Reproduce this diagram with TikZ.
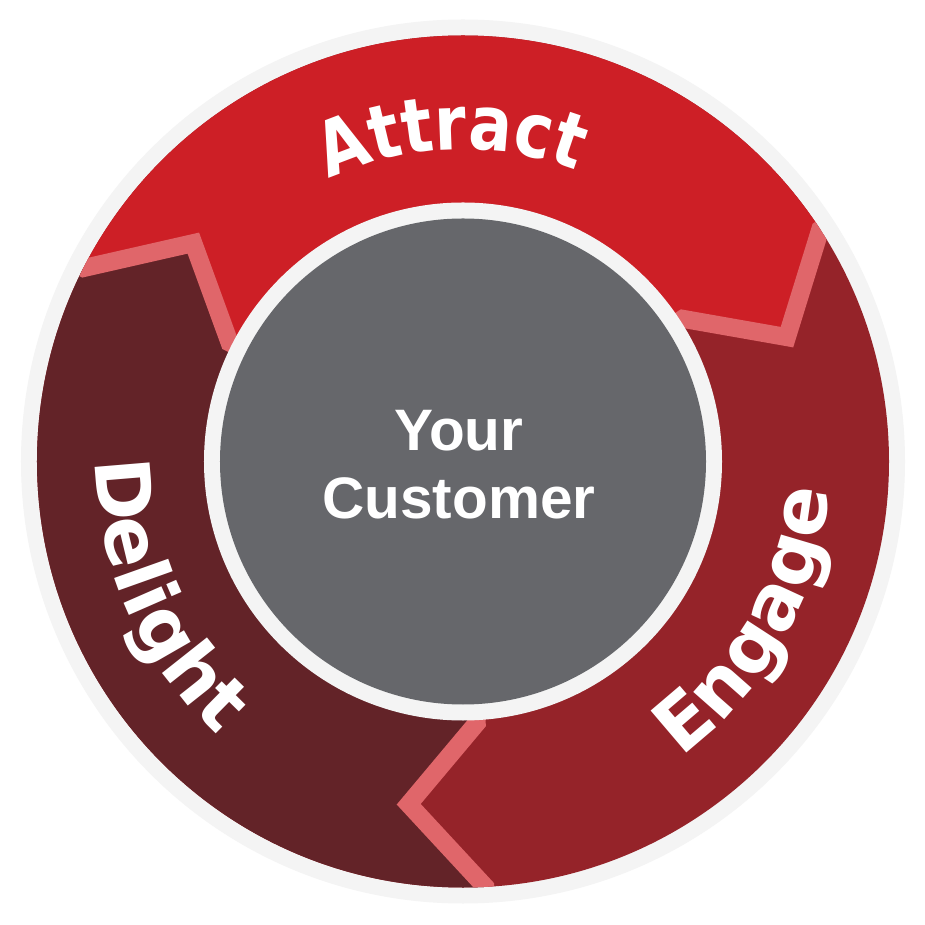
\documentclass[tikz,border=0pt]{standalone}
\usepackage{fontspec}
\usepackage{tikz}
\usetikzlibrary{positioning,decorations.text}
\definecolor{ringwhite}{HTML}{F4F4F4}
\definecolor{attractred}{HTML}{CD1F26}
\definecolor{engagered}{HTML}{952329}
\definecolor{delightred}{HTML}{632328}
\definecolor{chevronpink}{HTML}{E0666A}
\definecolor{hubgray}{HTML}{66676B}
\newfontfamily\stagefont{DejaVu Sans}[UprightFont={* Bold}]
\newfontfamily\attractfont{DejaVu Sans}[UprightFont={* Bold},FakeStretch=0.85]
\newfontfamily\hubfont{Liberation Sans}[UprightFont={* Bold}]
\newcommand\stagestyle{\stagefont\fontsize{43}{48}\selectfont}
\newcommand\attractstyle{\attractfont\fontsize{43}{48}\selectfont}

\begin{document}
\begin{tikzpicture}[x=0.02cm, y=0.02cm,
  chevron/.style={draw=chevronpink, line width=0.36cm, miter limit=10},
  hub/.style={text=white, align=center, inner sep=0pt,
    font=\hubfont\fontsize{33.3}{38.7}\selectfont},
  stagetext/.style={decorate, decoration={text along path, text align=center, text color=white}}]
  \useasboundingbox (-463,-463.5) rectangle (462,461.5);
  \fill[white] (-463,-463.5) rectangle (462,461.5);
  % outer border
  \fill[ringwhite] (0,0) circle[radius=442];
  % three stages
  \begin{scope}
    \clip (0,0) circle[radius=426];
    \fill[engagered] (0,0) circle[radius=430];
    \fill[attractred] (0,0) -- (153:262) -- (141:347) -- (153:426) -- (153:500)
      arc[start angle=153, end angle=33, radius=500]
      -- (33:426) -- (21:347) -- (33:262) -- cycle;
    \fill[delightred] (0,0) -- (273:262) -- (261:347) -- (273:426) -- (273:500)
      arc[start angle=273, end angle=153, radius=500]
      -- (153:426) -- (141:347) -- (153:262) -- cycle;
    \foreach \a in {33,153,273}
      \draw[chevron] (\a:240) -- (\a:262) -- (\a-12:347) -- (\a:426) -- (\a:450);
  \end{scope}
  % labels on the ring
  \path[stagetext, decoration={text={|\attractstyle|Attract}}]
    (152:312) arc[start angle=152, end angle=32, radius=312];
  \path[stagetext, decoration={text={|\stagestyle|Engage}}]
    (271:367) arc[start angle=271, end angle=391, radius=367];
  \path[stagetext, decoration={text={|\stagestyle|Delight}}]
    (144:367) arc[start angle=144, end angle=264, radius=367];
  % centre
  \fill[ringwhite] (0,0) circle[radius=259];
  \fill[hubgray] (0,0) circle[radius=243];
  \node[hub] (customer) at (-4,-3.5) {Your\\Customer};
\end{tikzpicture}
\end{document}
